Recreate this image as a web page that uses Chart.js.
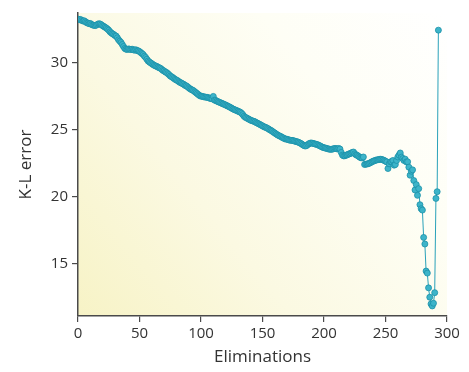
<!DOCTYPE html>
<html>
<head>
<meta charset="utf-8">
<script src="https://cdn.jsdelivr.net/npm/chart.js@4"></script>
<style>
  html, body { margin: 0; padding: 0; background: #fff; }
  #wrap { width: 469px; height: 372px; }
</style>
</head>
<body>
<div id="wrap"><canvas id="chart" width="469" height="372"></canvas></div>
<script>
// K-L error after each elimination
const klError = [
  33.25, 33.20, 33.22, 33.15, 33.10, 33.12, 33.05, 32.98, 32.95, 32.90,
  32.92, 32.85, 32.80, 32.78, 32.76, 32.80, 32.86, 32.90, 32.88, 32.82,
  32.75, 32.70, 32.64, 32.58, 32.50, 32.42, 32.30, 32.22, 32.15, 32.10,
  32.02, 31.98, 31.85, 31.70, 31.60, 31.50, 31.35, 31.20, 31.06, 31.00,
  30.98, 31.02, 31.00, 30.97, 31.00, 30.95, 30.93, 30.96, 30.90, 30.88,
  30.82, 30.75, 30.68, 30.60, 30.48, 30.38, 30.25, 30.12, 30.05, 29.98,
  29.92, 29.85, 29.80, 29.75, 29.72, 29.66, 29.62, 29.58, 29.50, 29.42,
  29.38, 29.30, 29.26, 29.18, 29.10, 29.00, 28.95, 28.89, 28.82, 28.75,
  28.70, 28.65, 28.58, 28.52, 28.48, 28.42, 28.38, 28.30, 28.27, 28.20,
  28.12, 28.05, 28.00, 27.95, 27.90, 27.82, 27.75, 27.68, 27.60, 27.53,
  27.50, 27.48, 27.45, 27.44, 27.42, 27.41, 27.38, 27.35, 27.32, 27.30,
  27.48, 27.20, 27.18, 27.12, 27.08, 27.04, 27.00, 26.96, 26.92, 26.88,
  26.84, 26.79, 26.75, 26.70, 26.65, 26.60, 26.54, 26.50, 26.46, 26.42,
  26.38, 26.34, 26.30, 26.22, 26.12, 26.00, 25.92, 25.88, 25.82, 25.78,
  25.72, 25.68, 25.65, 25.62, 25.58, 25.52, 25.48, 25.43, 25.38, 25.33,
  25.28, 25.22, 25.19, 25.15, 25.10, 25.05, 24.98, 24.94, 24.88, 24.80,
  24.75, 24.68, 24.62, 24.57, 24.52, 24.48, 24.42, 24.38, 24.32, 24.30,
  24.28, 24.25, 24.22, 24.20, 24.20, 24.18, 24.15, 24.12, 24.10, 24.07,
  24.02, 23.98, 23.92, 23.85, 23.80, 23.78, 23.82, 23.90, 23.96, 24.00,
  24.00, 23.98, 23.95, 23.92, 23.90, 23.87, 23.82, 23.78, 23.72, 23.68,
  23.65, 23.63, 23.60, 23.58, 23.55, 23.53, 23.53, 23.55, 23.58, 23.60,
  23.58, 23.56, 23.60, 23.55, 23.30, 23.10, 23.04, 23.05, 23.10, 23.12,
  23.18, 23.20, 23.25, 23.30, 23.33, 23.20, 23.12, 23.09, 23.02, 22.95,
  22.90, 22.89, 22.96, 22.40, 22.42, 22.44, 22.46, 22.50, 22.55, 22.60,
  22.65, 22.68, 22.72, 22.74, 22.76, 22.78, 22.79, 22.78, 22.74, 22.70,
  22.65, 22.59, 22.10, 22.45, 22.60, 22.59, 22.70, 22.35, 22.40, 22.70,
  22.96, 23.10, 23.26, 22.95, 22.84, 22.70, 22.80, 22.59, 22.60, 22.20,
  21.60, 21.90, 22.00, 21.20, 20.50, 20.90, 20.10, 20.60, 19.40, 19.10,
  19.00, 16.96, 16.47, 14.45, 14.30, 13.20, 12.50, 12.00, 11.85, 12.05,
  12.84, 19.87, 20.37, 32.42
];
// elimination step of each value
const eliminations = klError.map((v, i) => i);

const xTicks = [0, 50, 100, 150, 200, 250, 300];
const yTicks = [15, 20, 25, 30];

const axisColor = '#4a4a4a';
const textColor = '#333';
const fontFamily = "'Open Sans', 'Noto Sans', sans-serif";

// pale yellow wash behind the plot, fading to white at top right
const plotBackground = {
  id: 'plotBackground',
  beforeDraw(chart) {
    const { ctx, chartArea: a } = chart;
    const g = ctx.createLinearGradient(a.left, a.bottom, a.right, a.top);
    g.addColorStop(0, '#f7f3c6');
    g.addColorStop(0.35, '#fbf9e2');
    g.addColorStop(0.7, '#fefef5');
    g.addColorStop(1, '#ffffff');
    ctx.save();
    ctx.fillStyle = g;
    ctx.fillRect(a.left, a.top, a.right - a.left, a.bottom - a.top);
    ctx.restore();
  }
};

const ctx = document.getElementById('chart').getContext('2d');
const chart = new Chart(ctx, {
  type: 'line',
  data: {
    datasets: [{
      label: 'K-L error',
      data: klError.map((v, i) => ({ x: eliminations[i], y: v })),
      borderColor: '#2aa2ba',
      borderWidth: 1,
      pointRadius: 3,
      pointBackgroundColor: '#3db4c9',
      pointBorderColor: '#1b90a8',
      pointBorderWidth: 0.8,
      tension: 0
    }]
  },
  options: {
    responsive: false,
    animation: false,
    layout: { padding: { top: 10, right: 22, left: 0, bottom: 0 } },
    plugins: {
      legend: { display: false },
      tooltip: { enabled: false }
    },
    scales: {
      x: {
        type: 'linear',
        min: 0,
        max: 300,
        afterBuildTicks: s => { s.ticks = xTicks.map(v => ({ value: v })); },
        afterFit: s => { s.height = 56; },
        grid: { drawOnChartArea: false, drawTicks: true, tickLength: 6, color: axisColor, lineWidth: 1.2 },
        border: { display: true, color: axisColor, width: 1.5 },
        ticks: { color: textColor, padding: 3, maxRotation: 0, font: { family: fontFamily, size: 15 } },
        title: { display: true, text: 'Eliminations', color: textColor, padding: { top: 0, bottom: 5 }, font: { family: fontFamily, size: 17 } }
      },
      y: {
        min: 11.1,
        max: 33.7,
        afterBuildTicks: s => { s.ticks = yTicks.map(v => ({ value: v })); },
        afterFit: s => { s.width = 78; },
        grid: { drawOnChartArea: false, drawTicks: true, tickLength: 6, color: axisColor, lineWidth: 1.2 },
        border: { display: true, color: axisColor, width: 1.5 },
        ticks: { color: textColor, padding: 4, font: { family: fontFamily, size: 15 } },
        title: { display: true, text: 'K-L error', color: textColor, padding: { top: 16, bottom: 0 }, font: { family: fontFamily, size: 17 } }
      }
    }
  },
  plugins: [plotBackground]
});
</script>
</body>
</html>
